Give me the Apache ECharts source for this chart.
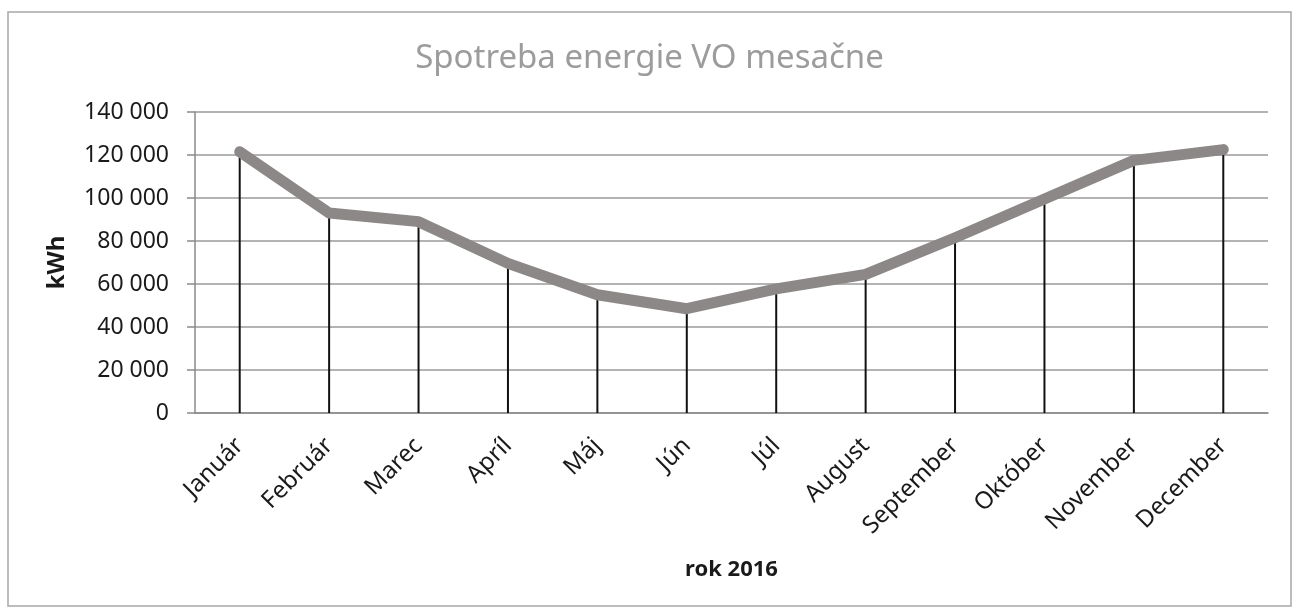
<!DOCTYPE html>
<html>
<head>
<meta charset="utf-8">
<script src="https://cdn.jsdelivr.net/npm/echarts@6/dist/echarts.min.js"></script>
<style>
html,body{margin:0;padding:0;background:#fff;}
#c{width:1299px;height:613px;}
</style>
</head>
<body>
<div id="c"></div>
<script>
const titleText = 'Spotreba energie VO mesačne';
const categories = ['Január','Február','Marec','Apríl','Máj','Jún','Júl','August','September','Október','November','December'];
const consumption = [121500, 93000, 89000, 69600, 55000, 48500, 57700, 64500, 81500, 99500, 117500, 122500];
const yName = 'kWh';
const xName = 'rok 2016';

const chart = echarts.init(document.getElementById('c'));
const fmt = v => {
  const s = String(v);
  return s.length > 3 ? s.slice(0, s.length - 3) + ' ' + s.slice(-3) : s;
};
chart.setOption({
  animation: false,
  backgroundColor: '#fff',
  title: {
    text: titleText,
    left: 'center',
    top: 37,
    textStyle: {fontFamily: 'Noto Sans', fontSize: 33, fontWeight: 'normal', color: '#9c9c9c'}
  },
  graphic: [{
    type: 'rect',
    shape: {x: 8, y: 12, width: 1283, height: 594},
    style: {fill: 'none', stroke: '#a8a8a8', lineWidth: 1.5},
    silent: true
  }],
  grid: {left: 195, right: 31, top: 112, bottom: 200},
  xAxis: {
    type: 'category',
    data: categories,
    boundaryGap: true,
    name: xName,
    nameLocation: 'middle',
    nameGap: 146,
    nameTextStyle: {fontFamily: 'Noto Sans', fontSize: 22, fontWeight: 'bold', color: '#1a1a1a'},
    axisLine: {lineStyle: {color: '#8a8a8a', width: 1.5}},
    axisTick: {show: false},
    axisLabel: {rotate: 45, margin: 29, fontFamily: 'Noto Sans', fontSize: 24, color: '#1a1a1a', interval: 0}
  },
  yAxis: {
    type: 'value',
    min: 0,
    max: 140000,
    interval: 20000,
    name: yName,
    nameLocation: 'middle',
    nameGap: 126,
    nameRotate: 90,
    nameTextStyle: {fontFamily: 'Noto Sans', fontSize: 24, fontWeight: 'bold', color: '#1a1a1a'},
    axisLine: {show: true, lineStyle: {color: '#8a8a8a', width: 1.5}},
    axisTick: {show: true, length: 8, lineStyle: {color: '#8a8a8a', width: 1.5}},
    splitLine: {lineStyle: {color: '#9a9a9a', width: 1.5}},
    axisLabel: {margin: 26, fontFamily: 'Noto Sans', fontSize: 23, color: '#1a1a1a', formatter: fmt}
  },
  series: [
    {
      type: 'bar',
      data: consumption,
      barWidth: 2,
      itemStyle: {color: '#111'},
      z: 1,
      silent: true
    },
    {
      type: 'line',
      data: consumption,
      symbol: 'none',
      lineStyle: {color: '#8d8888', width: 11, cap: 'round', join: 'round'},
      z: 3,
      silent: true
    }
  ]
});
</script>
</body>
</html>
